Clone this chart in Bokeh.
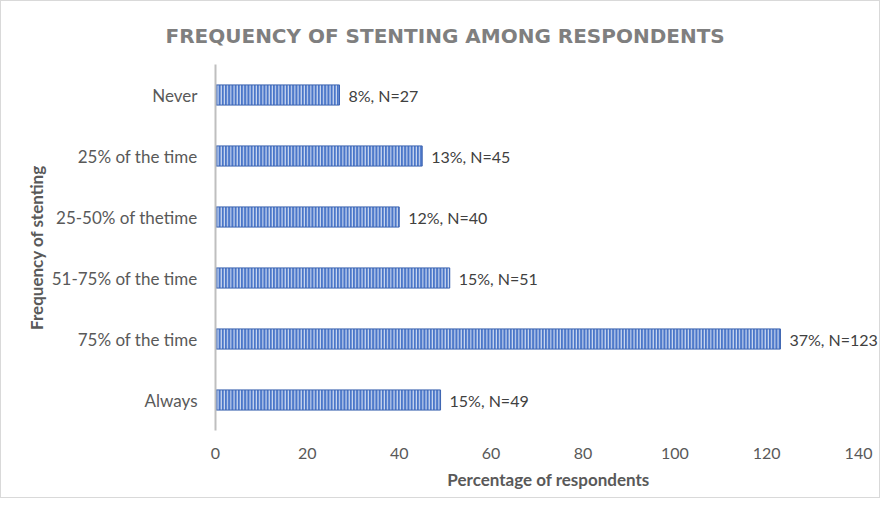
from bokeh.plotting import figure
from bokeh.models import ColumnDataSource, FactorRange, LabelSet, Range1d, FixedTicker
from bokeh.core.properties import value
from bokeh.embed import file_html
from bokeh.resources import INLINE

categories = ["Never", "25% of the time", "25-50% of thetime", "51-75% of the time", "75% of the time", "Always"]
counts = [27, 45, 40, 51, 123, 49]
labels = ["8%, N=27", "13%, N=45", "12%, N=40", "15%, N=51", "37%, N=123", "15%, N=49"]
x_ticks = [0, 20, 40, 60, 80, 100, 120, 140]

src = ColumnDataSource(dict(cat=categories, n=counts, lab=labels))

FONT = "Lato"
p = figure(width=880, height=498, output_backend="svg", toolbar_location=None,
           y_range=FactorRange(*reversed(categories)), x_range=Range1d(0, 145),
           min_border_left=214, min_border_right=0, min_border_top=63, min_border_bottom=69)
p.styles = {"border": "1px solid #d9d9d9"}

p.hbar(y="cat", right="n", left=0, height=0.33, source=src,
       fill_color="#4A76C9", line_color="#3C63B0", line_width=1,
       hatch_pattern="|", hatch_color="white", hatch_scale=3.2, hatch_weight=1.0, hatch_alpha=0.85)

ls = LabelSet(x="n", y="cat", text="lab", source=src, x_offset=9, y_offset=0,
              text_baseline="middle", text_font=value(FONT), text_font_size="16px", text_color="#404040")
p.add_layout(ls)

p.title.text = "FREQUENCY OF STENTING AMONG RESPONDENTS"
p.title.align = "left"
p.title.offset = -50
p.title.text_font = "DejaVu Sans"
p.title.text_font_style = "bold"
p.title.text_font_size = "20px"
p.title.text_color = "#7F7F7F"
p.title.standoff = 33

p.xgrid.visible = False
p.ygrid.visible = False
p.outline_line_color = None

p.xaxis.ticker = FixedTicker(ticks=x_ticks)
p.xaxis.axis_line_color = None
p.xaxis.major_tick_line_color = None
p.xaxis.minor_tick_line_color = None
p.xaxis.major_label_text_font = FONT
p.xaxis.major_label_text_font_size = "16px"
p.xaxis.major_label_text_color = "#595959"
p.xaxis.major_label_standoff = 11
p.xaxis.axis_label = "Percentage of respondents"
p.xaxis.axis_label_text_font = FONT
p.xaxis.axis_label_text_font_style = "bold"
p.xaxis.axis_label_text_font_size = "17px"
p.xaxis.axis_label_text_color = "#595959"
p.xaxis.axis_label_standoff = 7

p.yaxis.axis_line_color = "#BFBFBF"
p.yaxis.axis_line_width = 2
p.yaxis.major_tick_line_color = None
p.yaxis.minor_tick_line_color = None
p.yaxis.major_label_text_font = FONT
p.yaxis.major_label_text_font_size = "17px"
p.yaxis.major_label_text_color = "#595959"
p.yaxis.major_label_standoff = 12
p.yaxis.axis_label = "Frequency of stenting"
p.yaxis.axis_label_text_font = FONT
p.yaxis.axis_label_text_font_style = "bold"
p.yaxis.axis_label_text_font_size = "17px"
p.yaxis.axis_label_text_color = "#595959"
p.yaxis.axis_label_standoff = 2

open("out.html", "w").write(file_html(p, INLINE))
